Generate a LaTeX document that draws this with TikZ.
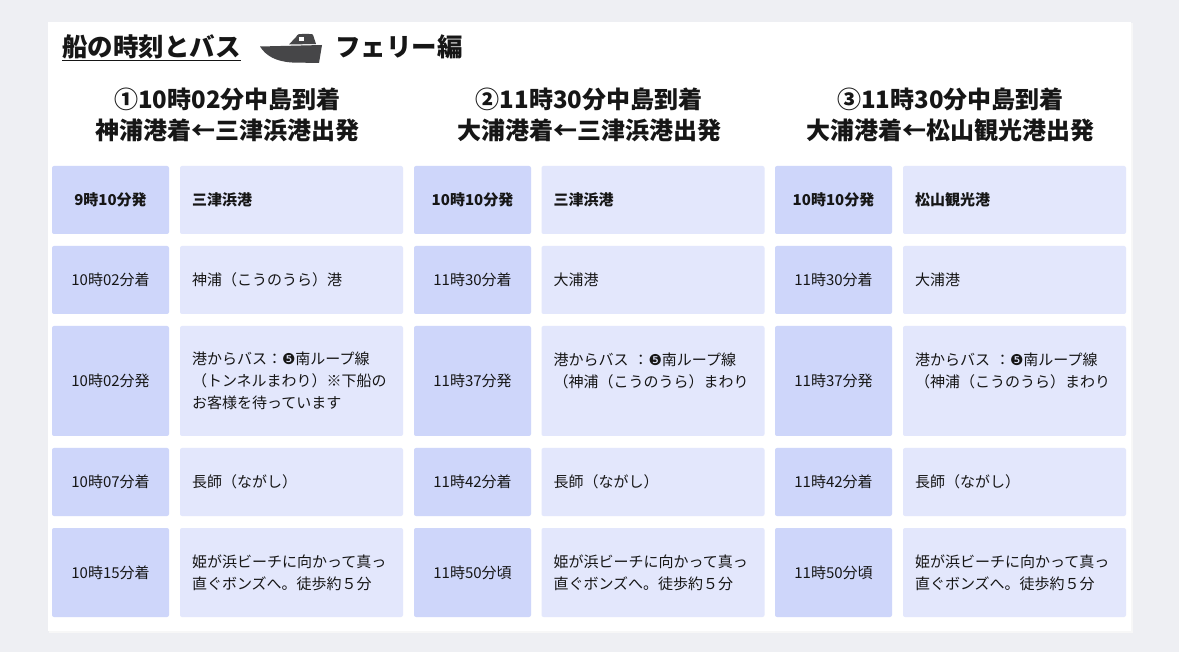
\documentclass[tikz,border=0pt]{standalone}
\usepackage{fontspec}
\setmainfont{Noto Sans CJK JP}
\newfontfamily\dingfont{DejaVu Sans}
\usepackage{xcolor}
\definecolor{pagegray}{RGB}{238,239,243}
\definecolor{timeblue}{RGB}{206,214,250}
\definecolor{placeblue}{RGB}{227,231,252}
\definecolor{boatgray}{RGB}{70,70,72}
\definecolor{inkblack}{RGB}{22,22,22}
\newcommand{\busno}{{\dingfont ❺}}

\begin{document}
\begin{tikzpicture}[x=1pt, y=-1pt,
	timecell/.style={fill=timeblue, rounded corners=2pt, minimum width=117pt, inner sep=0pt, align=center, text=inkblack, font=\fontsize{15}{22}\selectfont},
	placecell/.style={fill=placeblue, rounded corners=2pt, minimum width=223pt, text width=199pt, inner xsep=12pt, inner ysep=0pt, align=left, text=inkblack, font=\fontsize{15}{22}\selectfont},
	startrow/.style={font=\fontsize{15}{22}\selectfont\bfseries},
	shortrow/.style={minimum height=68pt},
	tallrow/.style={minimum height=110pt},
	walkrow/.style={minimum height=89pt},
	titletext/.style={anchor=base west, inner sep=0pt, text=inkblack, font=\fontsize{25.5}{28}\selectfont\bfseries},
	headline/.style={align=center, text=inkblack, font=\fontsize{24}{31}\selectfont\bfseries}]

% page and card
\fill[pagegray] (0,0) rectangle (1179,652);
\fill[black!3] (49,23) rectangle (1133,633);
\fill[white] (48,22) rectangle (1131,631);

% title
\node[titletext] (title) at (62,57) {船の時刻とバス};
\draw[inkblack, line width=1.4pt] ([yshift=-3.5pt]title.base west) -- ([yshift=-3.5pt]title.base east);
\fill[boatgray] (260,46.5) -- (322,45) -- (319,63) -- (292,62.5) .. controls (276,61.5) and (266,56) .. (260,46.5) -- cycle;
\fill[boatgray] (289,44.5) -- (296,37) .. controls (298,34) .. (302,34) -- (309,34) .. controls (313,34) .. (314,38) -- (316,44) -- cycle;
\fill[white] (299,37.5) rectangle (304,41.5);
\node[titletext] (ferry) at (335,57) {フェリー編};

% route headings
\node[headline] (head1) at (227.5,115) {①10時02分中島到着\\神浦港着←三津浜港出発};
\node[headline] (head2) at (589,115) {②11時30分中島到着\\大浦港着←三津浜港出発};
\node[headline] (head3) at (950.5,115) {③11時30分中島到着\\大浦港着←松山観光港出発};

% route 1
\node[timecell, shortrow, startrow] (t1r1) at (110.5,200) {9時10分発};
\node[placecell, shortrow, startrow] (p1r1) at (291.5,200) {三津浜港};
\node[timecell, shortrow] (t1r2) at (110.5,280) {10時02分着};
\node[placecell, shortrow] (p1r2) at (291.5,280) {神浦（こうのうら）港};
\node[timecell, tallrow] (t1r3) at (110.5,381) {10時02分発};
\node[placecell, tallrow] (p1r3) at (291.5,381) {港からバス：\busno 南ループ線\\（トンネルまわり）※下船の\\お客様を待っています};
\node[timecell, shortrow] (t1r4) at (110.5,482) {10時07分着};
\node[placecell, shortrow] (p1r4) at (291.5,482) {長師（ながし）};
\node[timecell, walkrow] (t1r5) at (110.5,572.5) {10時15分着};
\node[placecell, walkrow] (p1r5) at (291.5,572.5) {姫が浜ビーチに向かって真っ\\直ぐボンズへ。徒歩約５分};

% route 2
\node[timecell, shortrow, startrow] (t2r1) at (472.5,200) {10時10分発};
\node[placecell, shortrow, startrow] (p2r1) at (653,200) {三津浜港};
\node[timecell, shortrow] (t2r2) at (472.5,280) {11時30分着};
\node[placecell, shortrow] (p2r2) at (653,280) {大浦港};
\node[timecell, tallrow] (t2r3) at (472.5,381) {11時37分発};
\node[placecell, tallrow] (p2r3) at (653,381) {港からバス ：\busno 南ループ線\\（神浦（こうのうら）まわり\\\mbox{}};
\node[timecell, shortrow] (t2r4) at (472.5,482) {11時42分着};
\node[placecell, shortrow] (p2r4) at (653,482) {長師（ながし）};
\node[timecell, walkrow] (t2r5) at (472.5,572.5) {11時50分頃};
\node[placecell, walkrow] (p2r5) at (653,572.5) {姫が浜ビーチに向かって真っ\\直ぐボンズへ。徒歩約５分};

% route 3
\node[timecell, shortrow, startrow] (t3r1) at (833.5,200) {10時10分発};
\node[placecell, shortrow, startrow] (p3r1) at (1014.5,200) {松山観光港};
\node[timecell, shortrow] (t3r2) at (833.5,280) {11時30分着};
\node[placecell, shortrow] (p3r2) at (1014.5,280) {大浦港};
\node[timecell, tallrow] (t3r3) at (833.5,381) {11時37分発};
\node[placecell, tallrow] (p3r3) at (1014.5,381) {港からバス ：\busno 南ループ線\\（神浦（こうのうら）まわり\\\mbox{}};
\node[timecell, shortrow] (t3r4) at (833.5,482) {11時42分着};
\node[placecell, shortrow] (p3r4) at (1014.5,482) {長師（ながし）};
\node[timecell, walkrow] (t3r5) at (833.5,572.5) {11時50分頃};
\node[placecell, walkrow] (p3r5) at (1014.5,572.5) {姫が浜ビーチに向かって真っ\\直ぐボンズへ。徒歩約５分};
\end{tikzpicture}
\end{document}
